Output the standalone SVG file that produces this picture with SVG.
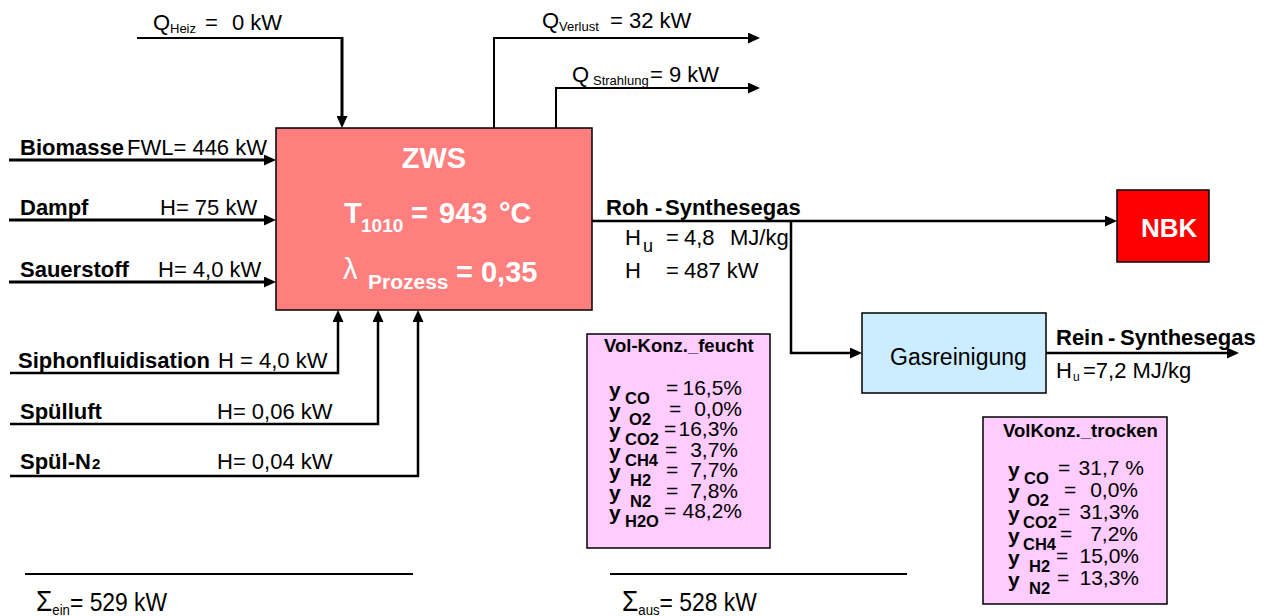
<svg xmlns="http://www.w3.org/2000/svg" width="1270" height="616" viewBox="0 0 1270 616">
<style>
text{font-family:"Liberation Sans",Arial,sans-serif;fill:#000}
.b{font-weight:bold}
.w{fill:#fff}
.ln{fill:none;stroke:#000;stroke-linecap:butt;stroke-linejoin:miter}
.box{stroke:#000;stroke-width:1.5}
.lbl{font-size:22px}
.val{font-size:21px;text-anchor:end}
.eq{font-size:21px}
.yy{font-size:21px;font-weight:bold}
.sb{font-size:16.5px;font-weight:bold}
.tt{font-size:18.5px;font-weight:bold}
</style>
<defs>
<marker id="arr" markerUnits="userSpaceOnUse" markerWidth="12" markerHeight="11" refX="6" refY="5.5" orient="auto" viewBox="0 0 12 11"><path d="M0,0 L12,5.5 L0,11 z" fill="#000"/></marker>
</defs>
<rect width="1270" height="616" fill="#fff"/>

<g id="connectors">
<path class="ln" stroke-width="2" d="M137,38 H342"/>
<path class="ln" stroke-width="3" d="M342,37 V122" marker-end="url(#arr)"/>
<path class="ln" stroke-width="3" d="M9,160 H270" marker-end="url(#arr)"/>
<path class="ln" stroke-width="3" d="M9,220 H270" marker-end="url(#arr)"/>
<path class="ln" stroke-width="3" d="M9,282 H270" marker-end="url(#arr)"/>
<path class="ln" stroke-width="2.5" d="M10,373 H338 V316" marker-end="url(#arr)"/>
<path class="ln" stroke-width="2.5" d="M10,424 H378 V316" marker-end="url(#arr)"/>
<path class="ln" stroke-width="2.5" d="M10,476 H418 V316" marker-end="url(#arr)"/>
<path class="ln" stroke-width="2" d="M494,128 V38 H754" marker-end="url(#arr)"/>
<path class="ln" stroke-width="2" d="M556,128 V88 H754" marker-end="url(#arr)"/>
<path class="ln" stroke-width="2.5" d="M592,221 H1111" marker-end="url(#arr)"/>
<path class="ln" stroke-width="2.5" d="M791,221 V353 H856" marker-end="url(#arr)"/>
<path class="ln" stroke-width="2.5" d="M1046,353 H1233" marker-end="url(#arr)"/>
<path class="ln" stroke-width="2" d="M25,574 H413"/>
<path class="ln" stroke-width="2" d="M610,574 H907"/>
</g>

<g id="labels-in">
<text class="lbl" y="30"><tspan x="153">Q</tspan><tspan x="170" y="33" font-size="13">Heiz</tspan><tspan x="205" y="30">=</tspan><tspan x="232">0 kW</tspan></text>
<text class="lbl" y="155"><tspan x="20" class="b">Biomasse</tspan><tspan x="127">FWL= 446 kW</tspan></text>
<text class="lbl" y="215"><tspan x="20" class="b">Dampf</tspan><tspan x="160">H= 75 kW</tspan></text>
<text class="lbl" y="277"><tspan x="20" class="b">Sauerstoff</tspan><tspan x="158">H= 4,0 kW</tspan></text>
<text class="lbl" y="368"><tspan x="18" class="b">Siphonfluidisation</tspan><tspan x="218">H = 4,0 kW</tspan></text>
<text class="lbl" y="419"><tspan x="20" class="b">Spülluft</tspan><tspan x="217">H= 0,06 kW</tspan></text>
<text class="lbl" y="469"><tspan x="20" class="b">Spül-N</tspan><tspan x="92" class="b" font-size="15">2</tspan><tspan x="217">H= 0,04 kW</tspan></text>
</g>

<g id="labels-out">
<text class="lbl" y="28"><tspan x="542">Q</tspan><tspan x="559" y="31" font-size="13">Verlust</tspan><tspan x="610" y="28">= 32 kW</tspan></text>
<text class="lbl" y="82"><tspan x="572">Q</tspan><tspan x="593" y="85" font-size="13">Strahlung</tspan><tspan x="650" y="82">= 9 kW</tspan></text>
<text class="lbl b" y="215"><tspan x="606">Roh</tspan><tspan x="655">-</tspan><tspan x="665">Synthesegas</tspan></text>
<text class="lbl" font-size="21"><tspan x="625" y="245">H</tspan><tspan x="643" y="252" font-size="18">u</tspan><tspan x="666" y="245">=</tspan><tspan x="684">4,8</tspan><tspan x="730">MJ/kg</tspan></text>
<text class="lbl"><tspan x="625" y="278">H</tspan><tspan x="666">=</tspan><tspan x="684">487 kW</tspan></text>
<text class="lbl b" y="345"><tspan x="1056">Rein</tspan><tspan x="1108">-</tspan><tspan x="1120">Synthesegas</tspan></text>
<text class="lbl"><tspan x="1056" y="378">H</tspan><tspan x="1073" y="381" font-size="12">u</tspan><tspan x="1083" y="378">=7,2 MJ/kg</tspan></text>
</g>

<g id="zws">
<rect class="box" x="276" y="128" width="316" height="182" fill="#FF7F7F"/>
<text class="b w" x="434" y="168" font-size="29" text-anchor="middle">ZWS</text>
<text class="b w" font-size="29"><tspan x="344" y="223">T</tspan><tspan x="361" y="232" font-size="19">1010</tspan><tspan x="411" y="223">=</tspan><tspan x="439">943</tspan><tspan x="499">°C</tspan></text>
<text class="w" font-size="29"><tspan x="343" y="279">λ</tspan><tspan x="368" y="289" font-size="21" font-weight="bold">Prozess</tspan><tspan x="456" y="282" font-weight="bold">= 0,35</tspan></text>
</g>

<g id="nbk">
<rect class="box" x="1117" y="190" width="92" height="72" fill="#FF0000"/>
<text class="b w" x="1141" y="237" font-size="26">NBK</text>
</g>

<g id="gasreinigung">
<rect class="box" x="862" y="313" width="184" height="80" fill="#CCECFF"/>
<text x="890" y="365" font-size="23">Gasreinigung</text>
</g>

<g id="konz-feucht">
<rect class="box" x="587" y="334" width="183" height="214" fill="#FFCCFF"/>
<text class="tt" x="604" y="352">Vol-Konz._feucht</text>
<text class="yy"><tspan x="609" y="397">y</tspan><tspan x="609" y="417.5">y</tspan><tspan x="609" y="438">y</tspan><tspan x="609" y="458.5">y</tspan><tspan x="609" y="479">y</tspan><tspan x="609" y="499.5">y</tspan><tspan x="609" y="520">y</tspan></text>
<text class="sb"><tspan x="625" y="404">CO</tspan><tspan x="629" y="424.5">O2</tspan><tspan x="625" y="445">CO2</tspan><tspan x="625" y="465.5">CH4</tspan><tspan x="630" y="486">H2</tspan><tspan x="630" y="506.5">N2</tspan><tspan x="625" y="527">H2O</tspan></text>
<text class="eq"><tspan x="666" y="395">=</tspan><tspan x="669" y="415.5">=</tspan><tspan x="664" y="436">=</tspan><tspan x="665" y="456.5">=</tspan><tspan x="666" y="477">=</tspan><tspan x="666" y="497.5">=</tspan><tspan x="664" y="518">=</tspan></text>
<text class="val"><tspan x="742" y="395">16,5%</tspan><tspan x="742" y="415.5">0,0%</tspan><tspan x="738" y="436">16,3%</tspan><tspan x="738" y="456.5">3,7%</tspan><tspan x="738" y="477">7,7%</tspan><tspan x="738" y="497.5">7,8%</tspan><tspan x="742" y="518">48,2%</tspan></text>
</g>

<g id="konz-trocken">
<rect class="box" x="983" y="417" width="184" height="187" fill="#FFCCFF"/>
<text class="tt" x="1003" y="437">VolKonz._trocken</text>
<text class="yy"><tspan x="1008" y="477">y</tspan><tspan x="1008" y="499">y</tspan><tspan x="1008" y="521">y</tspan><tspan x="1008" y="543">y</tspan><tspan x="1008" y="565">y</tspan><tspan x="1008" y="587">y</tspan></text>
<text class="sb"><tspan x="1024" y="484">CO</tspan><tspan x="1027" y="506">O2</tspan><tspan x="1023" y="528">CO2</tspan><tspan x="1023" y="550">CH4</tspan><tspan x="1029" y="572">H2</tspan><tspan x="1029" y="594">N2</tspan></text>
<text class="eq"><tspan x="1058" y="475">=</tspan><tspan x="1064" y="497">=</tspan><tspan x="1058" y="519">=</tspan><tspan x="1060" y="541">=</tspan><tspan x="1056" y="563">=</tspan><tspan x="1057" y="585">=</tspan></text>
<text class="val"><tspan x="1144" y="475">31,7 %</tspan><tspan x="1138" y="497">0,0%</tspan><tspan x="1139" y="519">31,3%</tspan><tspan x="1138" y="541">7,2%</tspan><tspan x="1139" y="563">15,0%</tspan><tspan x="1139" y="585">13,3%</tspan></text>
</g>

<g id="sums">
<text font-size="26" transform="translate(36,611) scale(0.88,1)"><tspan x="0" y="0" font-size="30">Σ</tspan><tspan y="4" font-size="15">ein</tspan><tspan y="0">= 529 kW</tspan></text>
<text font-size="26" transform="translate(622,611) scale(0.88,1)"><tspan x="0" y="0" font-size="30">Σ</tspan><tspan y="4" font-size="15">aus</tspan><tspan y="0">= 528 kW</tspan></text>
</g>
</svg>
